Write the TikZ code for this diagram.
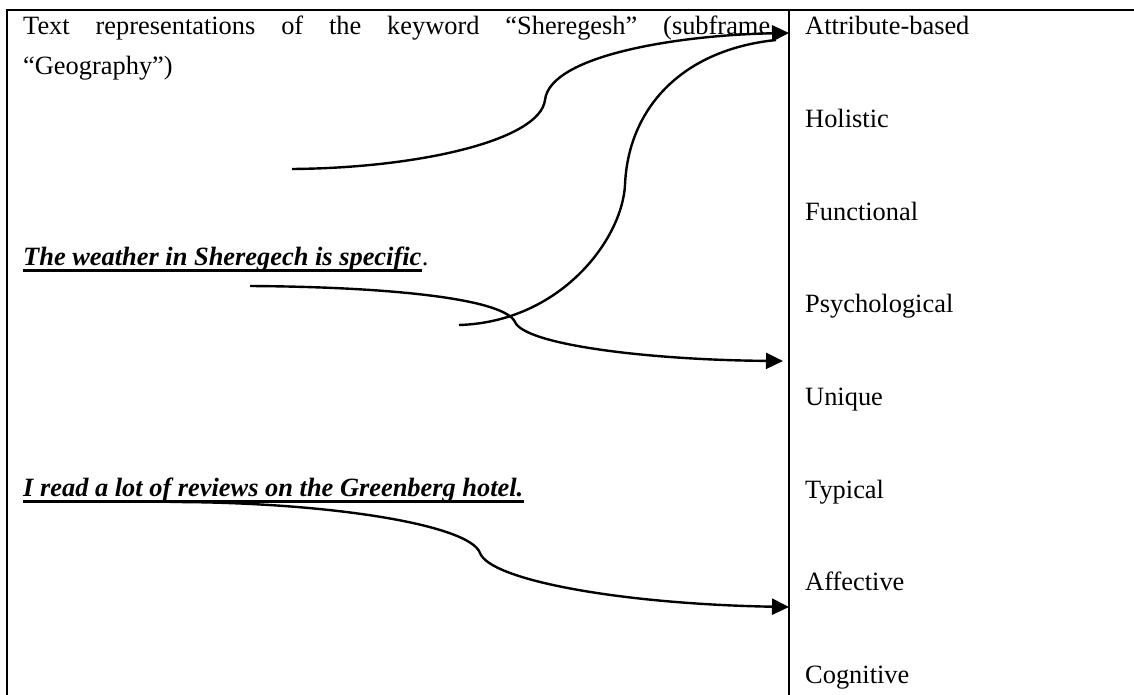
\documentclass[tikz,border=0pt]{standalone}
\usepackage{fontspec}
\setmainfont{Liberation Serif}
\usepackage{tikz}
\usetikzlibrary{arrows.meta, positioning}

\begin{document}
\begin{tikzpicture}[
  x=1pt, y=-1pt,
  node distance=68.2pt,
  frame/.style={line width=2.2pt},
  lbl/.style={inner sep=0pt, text width=300pt, align=left, text height=18pt, text depth=6pt, font=\fontsize{26.4}{31}\selectfont},
  txt/.style={inner sep=0pt, anchor=base west, font=\fontsize{26.4}{31}\selectfont},
  ex/.style={txt, font=\fontsize{26.4}{31}\selectfont\bfseries\itshape},
  uline/.style={line width=3pt},
  link/.style={line width=2.4pt},
  arrow/.style={link, -{Triangle[length=17pt, width=16pt]}}
]
  \useasboundingbox (0,0) rectangle (1134,695);

  \draw[frame] (7,695) -- (7,10) -- (1134,10);
  \draw[frame] (789,10) -- (789,695);

  \node[txt] (head1) at (23,35) {\makebox[747pt][s]{Text representations of the keyword “Sheregesh” (subframe}};
  \node[txt] (head2) at (23,75) {“Geography”)};

  \node[ex] (wx) at (23,265) {The weather in Sheregech is specific};
  \node[txt] (wxdot) at (wx.base east) {.};
  \draw[uline] ([yshift=-5pt]wx.base west) -- ([yshift=-5pt]wx.base east);

  \node[ex] (rd) at (23,496) {I read a lot of reviews on the Greenberg hotel.};
  \draw[uline] ([yshift=-5pt]rd.base west) -- ([yshift=-5pt]rd.base east);

  \node[lbl, anchor=base west] (attr) at (805,35) {Attribute-based};
  \node[lbl, below=of attr] (hol) {Holistic};
  \node[lbl, below=of hol] (fun) {Functional};
  \node[lbl, below=of fun] (psy) {Psychological};
  \node[lbl, below=of psy] (uni) {Unique};
  \node[lbl, below=of uni] (typ) {Typical};
  \node[lbl, below=of typ] (aff) {Affective};
  \node[lbl, below=of aff] (cog) {Cognitive};

  \coordinate (s1) at (292,169);
  \coordinate (b1) at (545,100);
  \coordinate (e1) at (789,33);
  \coordinate (s2) at (459,325);
  \coordinate (b2) at (625,185);
  \coordinate (e2) at (776,40);
  \coordinate (s3) at (250,286);
  \coordinate (b3) at (515,322);
  \coordinate (e3) at (783,361);
  \coordinate (s4) at (170,502);
  \coordinate (b4) at (480,553);
  \coordinate (e4) at (789,607);

  \draw[link] (s2) .. controls (560,322) and (622,240) .. (b2)
    .. controls (628,110) and (680,50) .. (e2);
  \draw[arrow] (s1) .. controls (420,168) and (540,140) .. (b1)
    .. controls (550,55) and (680,35) .. (e1);
  \draw[arrow] (s3) .. controls (400,287) and (505,300) .. (b3)
    .. controls (525,345) and (650,360) .. (e3);
  \draw[arrow] (s4) .. controls (330,502) and (470,525) .. (b4)
    .. controls (490,580) and (620,604) .. (e4);
\end{tikzpicture}
\end{document}
